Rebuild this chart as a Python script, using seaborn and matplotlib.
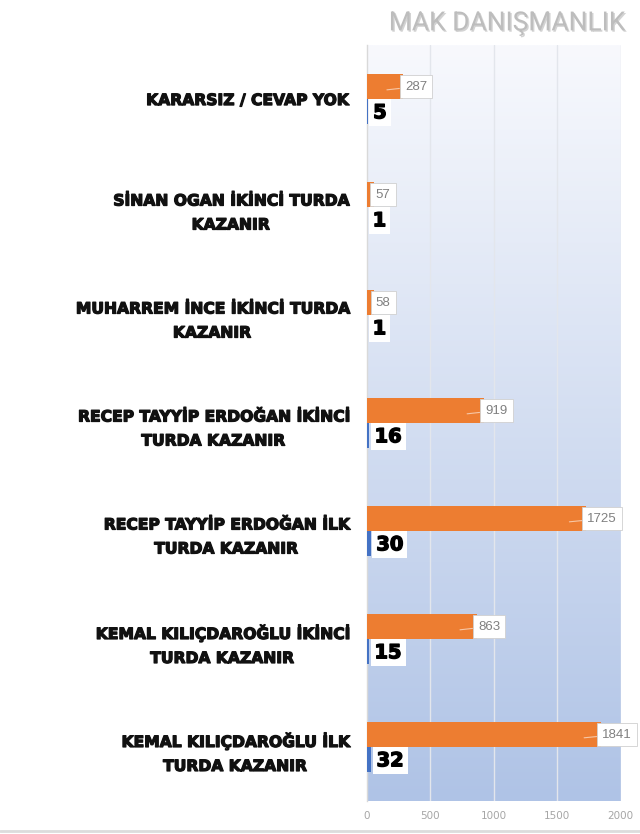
import numpy as np
import pandas as pd
import seaborn as sns
import matplotlib.pyplot as plt
import matplotlib.patheffects as pe
from matplotlib.colors import LinearSegmentedColormap
from matplotlib.lines import Line2D

sns.set_style('white')
plt.rcParams['font.family'] = ['DejaVu Sans']

# chart data
categories = [
    'KARARSIZ / CEVAP YOK',
    'SİNAN OGAN İKİNCİ TURDA\nKAZANIR',
    'MUHARREM İNCE İKİNCİ TURDA\nKAZANIR',
    'RECEP TAYYİP ERDOĞAN İKİNCİ\nTURDA KAZANIR',
    'RECEP TAYYİP ERDOĞAN İLK\nTURDA KAZANIR',
    'KEMAL KILIÇDAROĞLU İKİNCİ\nTURDA KAZANIR',
    'KEMAL KILIÇDAROĞLU İLK\nTURDA KAZANIR',
]
counts = [287, 57, 58, 919, 1725, 863, 1841]
percents = [5, 1, 1, 16, 30, 15, 32]
series = ['Kişi', 'Yüzde']
x_ticks = [0, 500, 1000, 1500, 2000]

df = pd.DataFrame({
    'kategori': categories * 2,
    'deger': counts + percents,
    'seri': [series[0]] * len(categories) + [series[1]] * len(categories),
})

fig = plt.figure(figsize=(6.4, 8.34), dpi=100)
ax = fig.add_axes([0.5734, 0.0396, 0.3966, 0.9064])

# gradient background of the plot area
cmap = LinearSegmentedColormap.from_list('bg', ['#f8f9fd', '#afc3e6'])
ax.imshow(np.linspace(0, 1, 256).reshape(-1, 1), cmap=cmap, aspect='auto',
          extent=[0, 1, 0, 1], transform=ax.transAxes, zorder=0, origin='upper')

sns.barplot(data=df, y='kategori', x='deger', hue='seri', hue_order=series,
            order=categories, orient='h', width=0.46, gap=0, saturation=1,
            palette=['#ed7d31', '#4472c4'], legend=False, ax=ax, zorder=3,
            linewidth=0, edgecolor='none')

ax.set_xlim(0, 2000)
ax.set_ylim(len(categories) - 0.5, -0.5)
ax.set_xticks(x_ticks)
ax.set_xticklabels([str(t) for t in x_ticks], color='#a6a6a6', fontsize=7.5)
ax.tick_params(axis='x', length=0, pad=7)
ax.tick_params(axis='y', length=0, pad=14)
ax.set_xlabel('')
ax.set_ylabel('')
heavy = [pe.withStroke(linewidth=0.9, foreground='#111111')]
for lbl in ax.get_yticklabels():
    lbl.set_fontsize(11.2)
    lbl.set_fontweight('heavy')
    lbl.set_multialignment('center')
    lbl.set_linespacing(1.75)
    lbl.set_color('#111111')
    lbl.set_path_effects(heavy)

for v in x_ticks[1:]:
    ax.axvline(v, color='#e3e6ec', lw=1, zorder=1)
for s in ['top', 'right', 'bottom']:
    ax.spines[s].set_visible(False)
ax.spines['left'].set_color('#d9d9d9')
ax.spines['left'].set_linewidth(1)

# value labels
orange_bars = ax.containers[0]
blue_bars = ax.containers[1]
for bar, v in zip(orange_bars, counts):
    yc = bar.get_y() + bar.get_height() / 2
    arrow = None
    if v > 200:
        arrow = dict(arrowstyle='-', color='#f7c7a6', lw=0.8, shrinkA=0, shrinkB=0)
    ax.annotate(str(v), xy=(v - 130 if v > 200 else v, yc + 0.03), xycoords='data',
                xytext=(v + 12, yc), textcoords='data',
                ha='left', va='center', fontsize=9.5, color='#808080',
                family=['Liberation Sans', 'DejaVu Sans'], zorder=5,
                bbox=dict(boxstyle='square,pad=0.4', fc='white', ec='#d0d0d0', lw=0.6),
                arrowprops=arrow)
for bar, v in zip(blue_bars, percents):
    yc = bar.get_y() + bar.get_height() / 2
    ax.annotate(str(v), xy=(bar.get_width(), yc), xytext=(4, -1),
                textcoords='offset points', ha='left', va='center',
                fontsize=14, fontweight='heavy', color='black', zorder=5,
                path_effects=[pe.withStroke(linewidth=1.0, foreground='black')],
                bbox=dict(boxstyle='square,pad=0.2', fc='white', ec='none'))

# header and bottom rule
fig.text(0.977, 0.972, 'MAK DANIŞMANLIK', ha='right', va='center',
         fontsize=19, color='#bdbdbd', family=['Roboto', 'DejaVu Sans'],
         path_effects=[pe.withSimplePatchShadow(offset=(1, -1), shadow_rgbFace='#cfcfcf', alpha=0.9)])
fig.add_artist(Line2D([0, 1], [0.004, 0.004], transform=fig.transFigure,
                      color='#dcdcdc', lw=2))

plt.savefig('out.png', dpi=100)
